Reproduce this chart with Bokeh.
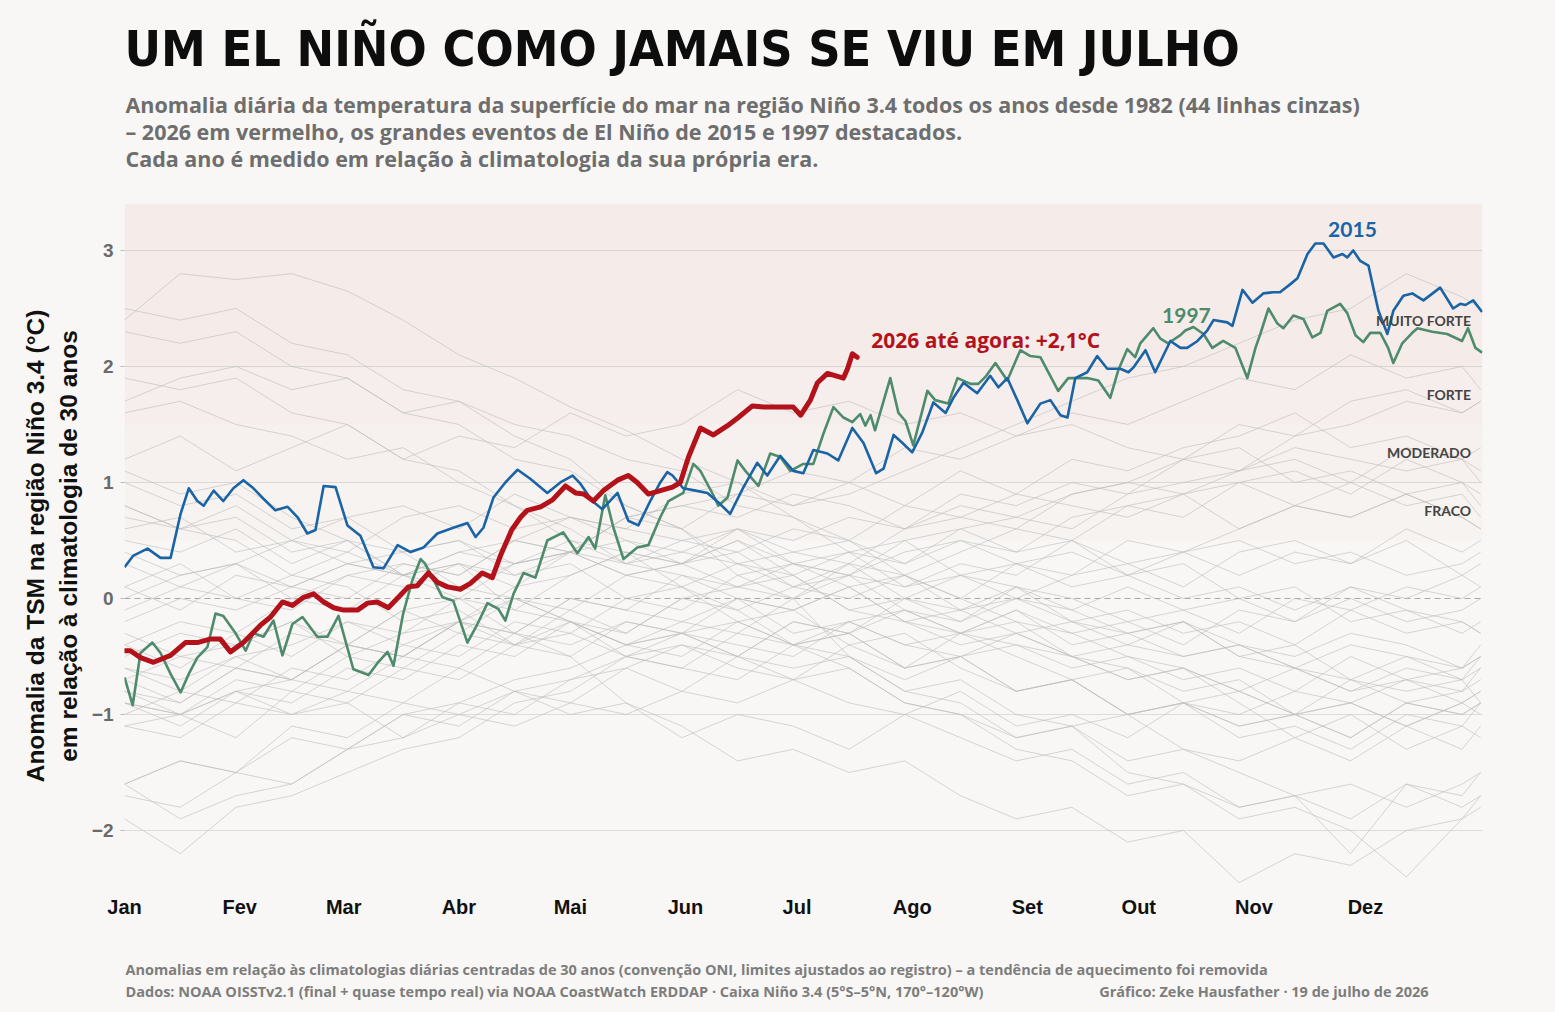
from bokeh.plotting import figure
from bokeh.layouts import column
from bokeh.models import Range1d, FixedTicker, BoxAnnotation, Span
from bokeh.core.properties import value
from bokeh.embed import file_html
from bokeh.resources import INLINE

# ---------------- texts ----------------
TITLE = "UM EL NIÑO COMO JAMAIS SE VIU EM JULHO"
SUBTITLE = [
    "Anomalia diária da temperatura da superfície do mar na região Niño 3.4 todos os anos desde 1982 (44 linhas cinzas)",
    "– 2026 em vermelho, os grandes eventos de El Niño de 2015 e 1997 destacados.",
    "Cada ano é medido em relação à climatologia da sua própria era.",
]
FOOTER_1 = "Anomalias em relação às climatologias diárias centradas de 30 anos (convenção ONI, limites ajustados ao registro) – a tendência de aquecimento foi removida"
FOOTER_2 = "Dados: NOAA OISSTv2.1 (final + quase tempo real) via NOAA CoastWatch ERDDAP · Caixa Niño 3.4 (5°S–5°N, 170°–120°W)"
FOOTER_3 = "Gráfico: Zeke Hausfather · 19 de julho de 2026"
Y_LABEL = "Anomalia da TSM na região Niño 3.4 (°C)\nem relação à climatologia de 30 anos"

MONTHS = ["Jan", "Fev", "Mar", "Abr", "Mai", "Jun", "Jul", "Ago", "Set", "Out", "Nov", "Dez"]
MONTH_START = [0, 31, 59, 90, 120, 151, 181, 212, 243, 273, 304, 334]
Y_TICKS = [-2, -1, 0, 1, 2, 3]
CATEGORY_LABELS = ["FRACO", "MODERADO", "FORTE", "MUITO FORTE"]
CATEGORY_Y = [0.76, 1.26, 1.76, 2.40]
BAND_EDGES = [0.5, 1.0, 1.5, 2.0]

# ---------------- highlighted years (day of year, anomaly °C) ----------------
D2026 = [0, 1.6, 4.3, 7.8, 12.4, 16.4, 19.6, 23, 25.8, 28.5,
         32, 36.6, 39.3, 42.5, 45.2, 48.2, 50.9, 53.6, 56.3, 59,
         62.7, 65.4, 68, 71, 74.3, 76.4, 78.8, 81.8, 84.2, 86.9,
         90.4, 93.1, 96.3, 99, 101.2, 104.2, 106.6, 108.4, 112, 115.2,
         118.7, 121.4, 123.6, 126.2, 128.9, 132.7, 135.6, 138, 141, 144.2,
         147.5, 149.6, 151.8, 155, 158.5, 162.3, 165.2, 169, 172, 176.5,
         180, 182, 184.6, 186.5, 189.2, 193.5, 194.6, 195.9, 197.2]
V2026 = [-0.45, -0.45, -0.51, -0.55, -0.49, -0.38, -0.38, -0.35, -0.35, -0.46,
         -0.38, -0.23, -0.16, -0.03, -0.06, 0.01, 0.04, -0.03, -0.08, -0.10,
         -0.10, -0.04, -0.03, -0.08, 0.03, 0.10, 0.11, 0.22, 0.14, 0.10,
         0.08, 0.13, 0.22, 0.18, 0.37, 0.59, 0.70, 0.76, 0.79, 0.85,
         0.97, 0.91, 0.90, 0.84, 0.93, 1.02, 1.06, 1.00, 0.90, 0.93,
         0.96, 1.00, 1.22, 1.47, 1.41, 1.49, 1.56, 1.66, 1.65, 1.65,
         1.65, 1.58, 1.71, 1.86, 1.94, 1.90, 1.98, 2.11, 2.08]

D2015 = [0, 2.4, 6.2, 9.7, 12.4, 15.1, 17.3, 19.6, 21.3, 24,
         26.6, 29.3, 32, 34.7, 37.4, 40.6, 43.9, 46.6, 49.2, 51.4,
         53.6, 56.8, 60, 63.5, 67, 69.7, 73.5, 77, 80.5, 84.2,
         88.5, 92.3, 94.5, 96.6, 99.3, 102.5, 105.8, 109.3, 113.8, 117.3,
         120.6, 122.7, 125.9, 128.6, 132.7, 135.6, 138.3, 141.5, 144.2, 146.1,
         147.5, 150.4, 153.7, 156.9, 159.8, 163, 166.6, 170.3, 173, 176.5,
         180, 182.7, 185.4, 189.2, 192.1, 195.9, 198.9, 202.3, 204.3, 207,
         209.4, 212, 214.7, 217.7, 221, 223.1, 225.8, 229.5, 233, 235.2,
         237.6, 240.3, 243, 246.5, 249.2, 251.9, 253.8, 255.9, 259.1, 261.8,
         264.5, 268, 270.2, 271.5, 274.8, 277.4, 281.5, 284.2, 286, 288.8,
         291.4, 293.1, 296.8, 298.2, 300.9, 303.6, 306.5, 309.2, 311, 313.8,
         315.7, 318.4, 320.5, 322.7, 325.4, 327.8, 329.1, 330.7, 332.6, 334.8,
         336.1, 337.5, 339.9, 341.5, 344.2, 346.6, 349.6, 354.1, 357.6, 359.5,
         360.9, 363, 365.4]
V2015 = [0.27, 0.37, 0.43, 0.35, 0.35, 0.73, 0.95, 0.84, 0.80, 0.93,
         0.84, 0.95, 1.02, 0.95, 0.86, 0.76, 0.79, 0.70, 0.56, 0.59,
         0.97, 0.96, 0.63, 0.54, 0.27, 0.26, 0.46, 0.40, 0.44, 0.56,
         0.61, 0.65, 0.53, 0.61, 0.87, 1.00, 1.11, 1.03, 0.91, 1.00,
         1.06, 0.99, 0.84, 0.77, 0.91, 0.67, 0.63, 0.84, 1.00, 1.09,
         1.06, 0.95, 0.93, 0.91, 0.83, 0.73, 0.96, 1.17, 1.06, 1.23,
         1.10, 1.08, 1.28, 1.25, 1.19, 1.47, 1.34, 1.08, 1.12, 1.41,
         1.34, 1.26, 1.43, 1.69, 1.60, 1.73, 1.86, 1.77, 1.92, 1.82,
         1.90, 1.71, 1.51, 1.68, 1.71, 1.58, 1.56, 1.90, 1.95, 2.09,
         1.98, 1.98, 1.95, 1.99, 2.14, 1.95, 2.22, 2.16, 2.16, 2.22,
         2.31, 2.40, 2.38, 2.35, 2.66, 2.55, 2.63, 2.64, 2.64, 2.71,
         2.76, 2.97, 3.06, 3.06, 2.94, 2.97, 2.94, 3.00, 2.91, 2.87,
         2.68, 2.48, 2.28, 2.48, 2.61, 2.63, 2.57, 2.68, 2.50, 2.54,
         2.53, 2.57, 2.47]

D1997 = [0, 2.2, 4.3, 7.5, 9.7, 12.4, 15.1, 17.3, 19.6, 22.3,
         24.5, 26.6, 29.9, 32.6, 34.7, 37.4, 40.1, 42.5, 45.2, 47.9,
         51.9, 54.6, 57.6, 61.6, 65.7, 68, 70.8, 72.4, 75, 77.5,
         79.7, 80.9, 83.2, 85.6, 88.5, 92.3, 95, 97.7, 100.6, 102.5,
         104.7, 107.4, 110.6, 113.8, 118.1, 121.9, 124.9, 126.7, 129.4, 131.6,
         134.3, 138, 141, 144.2, 146.4, 150.4, 153.1, 155, 158.5, 159.8,
         162.3, 165, 167.1, 170.6, 173.8, 176.5, 179.2, 182.7, 185.4, 188.1,
         190.8, 193.5, 195.9, 198, 199.4, 200.8, 202, 206.1, 208.3, 210.2,
         212.3, 216.1, 218.2, 221.7, 224.2, 227.7, 229.8, 231.7, 234.4, 237.6,
         241.1, 243.8, 246.5, 251.3, 254, 256.7, 259.1, 262.1, 265.3, 267.5,
         269.9, 272, 273.4, 276.9, 278.8, 280.9, 284.2, 285.5, 287.7, 290.4,
         292.8, 295.7, 299, 302.2, 304.4, 305.7, 307.9, 310.3, 311.9, 314.6,
         317.3, 319.7, 321.9, 323.7, 327.2, 329.1, 331.3, 333.4, 335.3, 338,
         340.1, 341.5, 343.9, 346.6, 348, 352, 356, 360, 361.6, 363.6,
         365.4]
V1997 = [-0.68, -0.92, -0.47, -0.38, -0.47, -0.65, -0.81, -0.65, -0.51, -0.42,
         -0.13, -0.15, -0.30, -0.45, -0.30, -0.33, -0.19, -0.49, -0.22, -0.16,
         -0.33, -0.33, -0.15, -0.61, -0.66, -0.56, -0.46, -0.58, -0.13, 0.16,
         0.34, 0.30, 0.16, 0.01, -0.02, -0.38, -0.22, -0.04, -0.09, -0.19,
         0.04, 0.22, 0.18, 0.50, 0.57, 0.39, 0.53, 0.43, 0.89, 0.61,
         0.34, 0.44, 0.46, 0.70, 0.84, 0.91, 1.16, 1.10, 0.89, 0.80,
         0.87, 1.19, 1.10, 0.97, 1.25, 1.22, 1.10, 1.16, 1.16, 1.42,
         1.65, 1.56, 1.52, 1.59, 1.49, 1.58, 1.45, 1.90, 1.60, 1.53,
         1.32, 1.79, 1.71, 1.68, 1.90, 1.85, 1.85, 1.91, 2.03, 1.88,
         2.14, 2.09, 2.08, 1.79, 1.90, 1.90, 1.90, 1.88, 1.73, 1.97,
         2.15, 2.08, 2.20, 2.33, 2.24, 2.20, 2.27, 2.31, 2.34, 2.28,
         2.16, 2.22, 2.16, 1.90, 2.16, 2.28, 2.50, 2.37, 2.33, 2.44,
         2.41, 2.25, 2.29, 2.48, 2.54, 2.46, 2.27, 2.21, 2.29, 2.29,
         2.16, 2.03, 2.20, 2.29, 2.33, 2.30, 2.28, 2.22, 2.33, 2.16,
         2.12]

# ---------------- the other years (grey), sampled every 15 days ----------------
GRAY_DAYS = [0, 15, 30, 45, 60, 75, 90, 105, 120, 135, 150, 165, 180,
             195, 210, 225, 240, 255, 270, 285, 300, 315, 330, 345, 360, 365]
G1982 = [-0.1, 0.1, 0.0, -0.1, 0.2, 0.3, 0.2, 0.5, 0.7, 0.6, 0.9, 1.0, 0.8, 0.9, 1.1, 1.3, 1.5, 1.7, 1.9, 2.0, 2.2, 2.4, 2.5, 2.8, 2.6, 2.5]
G1983 = [2.4, 2.8, 2.75, 2.8, 2.65, 2.4, 2.1, 1.9, 1.65, 1.45, 1.2, 1.0, 0.7, 0.5, 0.2, 0.0, -0.2, -0.3, -0.5, -0.6, -0.8, -1.0, -0.9, -1.1, -0.9, -0.8]
G1984 = [-0.5, -0.3, -0.4, -0.2, -0.5, -0.6, -0.3, -0.4, -0.2, -0.5, -0.3, -0.4, -0.5, -0.2, -0.1, -0.3, -0.4, -0.5, -0.7, -0.6, -0.9, -1.2, -1.0, -1.3, -1.1, -1.2]
G1985 = [-1.1, -1.2, -0.9, -1.0, -0.8, -0.9, -0.6, -0.8, -0.7, -0.5, -0.6, -0.7, -0.4, -0.5, -0.7, -0.5, -0.3, -0.5, -0.4, -0.2, -0.4, -0.5, -0.3, -0.4, -0.6, -0.5]
G1986 = [-0.6, -0.7, -0.5, -0.4, -0.2, -0.4, -0.2, 0.0, -0.1, 0.2, 0.1, 0.3, 0.4, 0.3, 0.6, 0.7, 0.6, 0.9, 1.0, 0.9, 1.1, 1.2, 1.0, 1.3, 1.2, 1.3]
G1987 = [1.2, 1.4, 1.1, 1.3, 1.5, 1.2, 1.4, 1.3, 1.6, 1.4, 1.5, 1.8, 1.6, 1.7, 1.5, 1.6, 1.4, 1.5, 1.3, 1.2, 1.3, 1.0, 1.1, 0.9, 1.0, 0.8]
G1988 = [0.8, 0.6, 0.7, 0.4, 0.5, 0.2, 0.0, -0.3, -0.5, -0.9, -1.1, -1.4, -1.3, -1.5, -1.4, -1.7, -1.9, -1.8, -2.1, -2.0, -2.45, -2.2, -2.3, -2.0, -1.9, -1.8]
G1989 = [-1.9, -2.2, -1.8, -1.7, -1.5, -1.3, -1.2, -0.9, -0.8, -0.5, -0.6, -0.3, -0.4, -0.2, -0.4, -0.3, -0.1, -0.3, -0.2, -0.4, -0.1, -0.2, 0.0, -0.2, -0.1, 0.0]
G1990 = [0.1, 0.3, 0.0, 0.2, 0.4, 0.2, 0.3, 0.1, 0.4, 0.2, 0.3, 0.5, 0.2, 0.4, 0.3, 0.5, 0.3, 0.4, 0.2, 0.4, 0.5, 0.3, 0.4, 0.2, 0.3, 0.4]
G1991 = [0.4, 0.2, 0.3, 0.1, 0.3, 0.2, 0.4, 0.5, 0.4, 0.7, 0.8, 0.7, 0.9, 0.8, 0.6, 0.8, 0.7, 0.9, 1.0, 1.2, 1.1, 1.4, 1.5, 1.7, 1.6, 1.7]
G1992 = [1.7, 1.9, 2.0, 1.8, 1.9, 1.6, 1.7, 1.5, 1.4, 1.2, 1.1, 0.8, 0.7, 0.4, 0.5, 0.2, 0.1, 0.0, -0.2, -0.1, -0.3, 0.0, -0.1, 0.1, 0.0, 0.1]
G1993 = [0.0, 0.2, 0.3, 0.5, 0.4, 0.7, 0.8, 0.6, 0.7, 0.5, 0.4, 0.3, 0.1, 0.3, 0.0, 0.2, 0.3, 0.1, 0.2, 0.0, 0.1, -0.1, 0.1, 0.0, 0.2, 0.1]
G1994 = [0.1, -0.1, 0.2, 0.1, 0.3, 0.2, 0.4, 0.3, 0.5, 0.3, 0.4, 0.6, 0.4, 0.5, 0.3, 0.6, 0.7, 0.6, 0.9, 1.0, 1.1, 1.3, 1.2, 1.1, 1.2, 1.0]
G1995 = [1.0, 0.8, 0.9, 0.6, 0.7, 0.4, 0.5, 0.2, 0.3, 0.0, 0.1, -0.2, -0.1, -0.4, -0.3, -0.6, -0.8, -0.7, -1.0, -0.9, -1.1, -1.0, -1.2, -0.9, -1.0, -0.9]
G1996 = [-0.9, -1.1, -0.8, -0.7, -0.8, -0.5, -0.6, -0.3, -0.4, -0.2, -0.3, 0.0, -0.1, 0.1, -0.2, -0.3, -0.1, -0.4, -0.3, -0.5, -0.4, -0.6, -0.4, -0.5, -0.7, -0.5]
G1998 = [2.3, 2.2, 2.3, 2.0, 1.9, 1.6, 1.5, 1.2, 1.1, 0.8, 0.6, 0.2, 0.0, -0.5, -0.8, -0.9, -1.2, -1.1, -1.4, -1.3, -1.5, -1.7, -1.6, -1.8, -1.6, -1.5]
G1999 = [-1.6, -1.4, -1.5, -1.1, -1.2, -0.9, -1.0, -0.8, -1.0, -0.9, -1.2, -1.0, -1.1, -1.3, -1.0, -1.2, -1.4, -1.3, -1.6, -1.5, -1.8, -1.7, -2.2, -1.6, -1.8, -1.7]
G2000 = [-1.7, -1.8, -1.5, -1.6, -1.3, -1.0, -1.1, -0.8, -0.9, -0.6, -0.8, -0.5, -0.7, -0.4, -0.6, -0.3, -0.5, -0.7, -0.6, -0.9, -0.8, -1.0, -0.7, -0.9, -0.8, -0.7]
G2001 = [-0.7, -0.9, -0.6, -0.7, -0.4, -0.5, -0.2, -0.4, -0.1, -0.3, 0.0, -0.1, 0.1, 0.0, 0.2, -0.1, 0.0, -0.2, -0.1, -0.3, -0.2, -0.4, -0.1, -0.3, -0.2, -0.3]
G2002 = [-0.2, 0.0, -0.1, 0.1, 0.0, 0.3, 0.2, 0.5, 0.4, 0.7, 0.6, 0.9, 0.8, 1.0, 0.8, 1.1, 0.9, 1.2, 1.1, 1.3, 1.4, 1.6, 1.3, 1.4, 1.2, 1.1]
G2003 = [1.1, 0.9, 1.0, 0.7, 0.5, 0.4, 0.1, 0.0, -0.2, -0.4, -0.2, -0.3, 0.0, 0.2, 0.1, 0.3, 0.2, 0.5, 0.3, 0.4, 0.2, 0.4, 0.3, 0.5, 0.2, 0.3]
G2004 = [0.3, 0.1, 0.3, 0.0, 0.2, 0.1, 0.3, 0.2, 0.4, 0.3, 0.5, 0.4, 0.6, 0.5, 0.8, 0.7, 0.9, 0.8, 0.7, 0.9, 0.6, 0.8, 0.7, 0.9, 0.7, 0.6]
G2005 = [0.6, 0.7, 0.4, 0.5, 0.3, 0.4, 0.5, 0.3, 0.4, 0.2, 0.3, 0.1, 0.2, -0.1, 0.0, -0.2, 0.1, -0.1, -0.3, -0.2, -0.5, -0.6, -0.8, -0.7, -0.9, -0.8]
G2006 = [-0.8, -0.9, -0.6, -0.7, -0.4, -0.5, -0.2, -0.3, 0.0, -0.1, 0.2, 0.1, 0.3, 0.2, 0.4, 0.5, 0.4, 0.7, 0.8, 0.7, 1.0, 1.1, 0.9, 1.2, 1.0, 0.9]
G2007 = [0.8, 0.6, 0.5, 0.2, 0.1, -0.2, -0.1, -0.4, -0.3, -0.5, -0.4, -0.6, -0.7, -0.6, -0.9, -1.0, -1.2, -1.1, -1.5, -1.6, -1.8, -1.7, -1.9, -1.6, -1.7, -1.5]
G2008 = [-1.6, -1.9, -1.7, -1.6, -1.3, -1.2, -0.9, -1.0, -0.7, -0.6, -0.4, -0.5, -0.2, -0.3, 0.0, -0.1, 0.1, -0.2, -0.3, -0.2, -0.5, -0.4, -0.7, -0.8, -0.7, -0.9]
G2009 = [-0.8, -1.0, -0.7, -0.8, -0.5, -0.3, -0.2, 0.1, 0.2, 0.4, 0.3, 0.6, 0.5, 0.7, 0.6, 0.9, 0.8, 1.0, 0.9, 1.2, 1.5, 1.4, 1.7, 1.8, 1.6, 1.7]
G2010 = [1.6, 1.7, 1.5, 1.4, 1.2, 1.3, 1.0, 0.8, 0.5, 0.4, 0.1, -0.1, -0.4, -0.6, -0.9, -1.0, -1.3, -1.4, -1.7, -1.6, -1.9, -1.8, -2.0, -2.4, -1.9, -1.7]
G2011 = [-1.6, -1.4, -1.5, -1.2, -1.3, -1.0, -0.9, -0.7, -0.6, -0.4, -0.5, -0.2, -0.4, -0.3, -0.6, -0.5, -0.8, -0.7, -1.0, -0.9, -1.2, -1.1, -1.3, -1.0, -1.1, -0.9]
G2012 = [-1.0, -0.8, -0.9, -0.6, -0.7, -0.4, -0.5, -0.2, -0.3, 0.0, -0.1, 0.2, 0.3, 0.2, 0.5, 0.6, 0.4, 0.5, 0.2, 0.3, 0.0, 0.1, -0.2, -0.1, -0.3, -0.2]
G2013 = [-0.3, -0.5, -0.4, -0.2, -0.4, -0.1, -0.3, 0.0, -0.2, -0.4, -0.3, -0.5, -0.2, -0.3, -0.1, -0.2, 0.0, -0.1, 0.1, -0.1, 0.0, -0.2, 0.1, -0.1, -0.2, -0.3]
G2014 = [-0.4, -0.6, -0.3, -0.5, -0.2, -0.3, 0.0, -0.1, 0.2, 0.4, 0.3, 0.5, 0.3, 0.1, 0.2, 0.0, 0.3, 0.2, 0.5, 0.4, 0.6, 0.8, 0.7, 0.9, 0.7, 0.6]
G2016 = [2.5, 2.4, 2.5, 2.2, 2.1, 1.8, 1.7, 1.4, 1.2, 0.8, 0.6, 0.3, 0.2, -0.1, -0.2, -0.4, -0.3, -0.5, -0.7, -0.6, -0.8, -0.6, -0.7, -0.5, -0.6, -0.4]
G2017 = [-0.4, -0.2, -0.3, 0.0, -0.1, 0.2, 0.1, 0.3, 0.4, 0.5, 0.3, 0.4, 0.1, 0.2, -0.1, -0.3, -0.2, -0.5, -0.6, -0.8, -0.7, -1.0, -0.9, -1.1, -0.9, -1.0]
G2018 = [-0.9, -1.0, -0.8, -0.9, -0.6, -0.7, -0.4, -0.5, -0.2, -0.3, 0.0, 0.1, 0.0, 0.3, 0.2, 0.4, 0.6, 0.5, 0.8, 0.9, 1.0, 0.8, 1.0, 0.8, 0.9, 0.7]
G2019 = [0.7, 0.6, 0.8, 0.5, 0.7, 0.8, 0.6, 0.9, 0.7, 0.6, 0.5, 0.6, 0.3, 0.4, 0.1, 0.2, 0.0, 0.2, 0.3, 0.1, 0.4, 0.5, 0.3, 0.6, 0.4, 0.5]
G2020 = [0.5, 0.4, 0.6, 0.3, 0.5, 0.2, 0.3, -0.1, -0.2, -0.4, -0.3, -0.5, -0.6, -0.5, -0.8, -0.7, -1.0, -1.1, -1.0, -1.3, -1.4, -1.2, -1.4, -1.1, -1.3, -1.1]
G2021 = [-1.1, -1.0, -1.2, -0.8, -0.9, -0.6, -0.7, -0.4, -0.5, -0.2, -0.3, -0.2, -0.4, -0.3, -0.6, -0.5, -0.8, -0.7, -1.0, -0.9, -1.1, -1.0, -1.2, -0.9, -1.0, -0.9]
G2022 = [-0.9, -1.0, -0.8, -1.0, -0.9, -1.2, -1.0, -1.1, -0.9, -1.0, -0.8, -0.9, -0.7, -0.9, -1.0, -0.8, -1.1, -1.0, -1.2, -0.9, -1.0, -0.8, -0.9, -0.7, -0.8, -0.6]
G2023 = [-0.7, -0.5, -0.6, -0.3, -0.4, -0.1, 0.0, 0.3, 0.4, 0.7, 0.8, 0.9, 1.1, 1.0, 1.3, 1.2, 1.4, 1.6, 1.5, 1.7, 1.9, 1.8, 2.1, 1.9, 2.0, 1.8]
G2024 = [1.9, 1.8, 1.9, 1.6, 1.5, 1.2, 1.1, 0.8, 0.6, 0.3, 0.2, 0.0, -0.1, 0.1, -0.2, -0.1, -0.3, -0.2, -0.4, -0.5, -0.4, -0.6, -0.8, -0.6, -0.7, -0.6]
G2025 = [-0.6, -0.8, -0.5, -0.7, -0.4, -0.5, -0.2, -0.3, 0.0, -0.1, -0.2, 0.0, -0.3, -0.2, -0.4, -0.5, -0.4, -0.6, -0.5, -0.7, -0.6, -0.8, -0.5, -0.7, -0.6, -0.5]

GRAY_YEARS = [G1982, G1983, G1984, G1985, G1986, G1987, G1988, G1989, G1990, G1991,
              G1992, G1993, G1994, G1995, G1996, G1998, G1999, G2000, G2001, G2002,
              G2003, G2004, G2005, G2006, G2007, G2008, G2009, G2010, G2011, G2012,
              G2013, G2014, G2016, G2017, G2018, G2019, G2020, G2021, G2022, G2023,
              G2024, G2025]

# ---------------- style ----------------
W = 1555
BG = "#f8f7f5"
FONT = "Lato"
SANS = "Open Sans"
HELV = "Liberation Sans"
TITLE_FONT = "DejaVu Sans Condensed, Roboto, sans-serif"
RED = "#b3121a"
BLUE = "#1a64a6"
GREEN = "#4e8b6c"
GREY = "#bdbdbd"
# the header and footer frames get aligned with the chart frame (x = 124 .. 1482 px)
FRAME_X = (124, 1482)


def blank(h):
    f = figure(width=W, height=h, x_range=Range1d(*FRAME_X), y_range=Range1d(h, 0),
               output_backend="svg", toolbar_location=None, min_border=0,
               x_axis_location=None, y_axis_location=None)
    f.grid.visible = False
    f.outline_line_color = None
    f.background_fill_color = BG
    f.border_fill_color = BG
    return f


# ---------------- header ----------------
header = blank(203)
header.text(x=[124], y=[48], text=[TITLE], text_font=value(TITLE_FONT),
            text_font_style="bold", text_font_size="50px", text_color="#0d0d0d",
            text_baseline="middle", text_align="left")
header.text(x=[125, 125, 125], y=[104, 131, 158], text=SUBTITLE, text_font=value(SANS),
            text_font_style="bold", text_font_size="21.5px", text_color="#6e6e6e",
            text_baseline="middle", text_align="left")

# ---------------- main chart ----------------
p = figure(width=W, height=737, x_range=Range1d(0, 365.5), y_range=Range1d(-2.5, 3.405),
           output_backend="svg", toolbar_location=None,
           min_border_left=124, min_border_right=73, min_border_top=0, min_border_bottom=52)
p.background_fill_color = BG
p.border_fill_color = BG
p.outline_line_color = None

alphas = [0.018, 0.03, 0.042, 0.055]
for i, lo in enumerate(BAND_EDGES):
    hi = BAND_EDGES[i + 1] if i + 1 < len(BAND_EDGES) else None
    p.add_layout(BoxAnnotation(bottom=lo, top=hi, fill_color="#c0392b", fill_alpha=alphas[i],
                               line_color=None, level="underlay"))

p.xgrid.visible = False
p.ygrid.ticker = FixedTicker(ticks=[t for t in Y_TICKS if t != 0])
p.ygrid.grid_line_color = "#dcdcdc"
p.ygrid.grid_line_width = 1
p.add_layout(Span(location=0, dimension="width", line_color="#a8a8a8",
                  line_dash="6 4", line_width=1, level="underlay"))

p.yaxis.ticker = FixedTicker(ticks=Y_TICKS)
p.yaxis.major_label_overrides = {t: (str(t).replace("-", "−")) for t in Y_TICKS}
p.yaxis.axis_line_color = None
p.yaxis.major_tick_out = 4
p.yaxis.major_tick_in = 0
p.yaxis.major_tick_line_color = "#bbbbbb"
p.yaxis.minor_tick_line_color = None
p.yaxis.major_label_standoff = 7
p.yaxis.major_label_text_font = HELV
p.yaxis.major_label_text_font_style = "bold"
p.yaxis.major_label_text_font_size = "19px"
p.yaxis.major_label_text_color = "#6a6a6a"
p.yaxis.axis_label = Y_LABEL
p.yaxis.axis_label_text_font = HELV
p.yaxis.axis_label_text_font_style = "bold"
p.yaxis.axis_label_text_font_size = "24.5px"
p.yaxis.axis_label_text_color = "#111111"
p.yaxis.axis_label_text_line_height = 1.22
p.yaxis.axis_label_standoff = 7

p.xaxis.ticker = FixedTicker(ticks=MONTH_START)
p.xaxis.major_label_overrides = dict(zip(MONTH_START, MONTHS))
p.xaxis.axis_line_color = None
p.xaxis.major_tick_line_color = None
p.xaxis.minor_tick_line_color = None
p.xaxis.major_tick_out = 0
p.xaxis.major_label_standoff = 7
p.xaxis.major_label_text_font = HELV
p.xaxis.major_label_text_font_style = "bold"
p.xaxis.major_label_text_font_size = "20px"
p.xaxis.major_label_text_color = "#111111"

# grey years
p.multi_line(xs=[GRAY_DAYS[:len(v)] for v in GRAY_YEARS] + [D1997, D2015],
             ys=[v for v in GRAY_YEARS] + [V1997, V2015],
             line_color=GREY, line_alpha=0.6, line_width=1)

# highlighted years
p.line(D1997, V1997, line_color=GREEN, line_width=2.6, line_join="round")
p.line(D2015, V2015, line_color=BLUE, line_width=2.6, line_join="round")
p.line(D2026, V2026, line_color=RED, line_width=5, line_join="round", line_cap="round")

# annotations
p.text(x=[330.5], y=[3.18], text=["2015"], text_font=value(FONT), text_font_style="bold",
       text_font_size="21px", text_color=BLUE, text_align="center", text_baseline="middle")
p.text(x=[285.8], y=[2.44], text=["1997"], text_font=value(FONT), text_font_style="bold",
       text_font_size="21px", text_color=GREEN, text_align="center", text_baseline="middle")
p.text(x=[201], y=[2.23], text=["2026 até agora: +2,1°C"], text_font=value(SANS),
       text_font_style="bold", text_font_size="21px", text_color=RED,
       text_align="left", text_baseline="middle")
p.text(x=[362.4] * len(CATEGORY_LABELS), y=CATEGORY_Y, text=CATEGORY_LABELS,
       text_font=value(FONT), text_font_style="bold", text_font_size="14px",
       text_color="#444444", text_align="right", text_baseline="middle")

# ---------------- footer ----------------
footer = blank(72)
footer.text(x=[125, 125], y=[29, 51], text=[FOOTER_1, FOOTER_2], text_font=value(SANS),
            text_font_style="bold", text_font_size="14.5px", text_color="#7d7d7d",
            text_baseline="middle", text_align="left")
footer.text(x=[1428], y=[51], text=[FOOTER_3], text_font=value(SANS),
            text_font_style="bold", text_font_size="14.5px", text_color="#7d7d7d",
            text_baseline="middle", text_align="right")

layout = column(header, p, footer, spacing=0)
layout.styles = {"background-color": BG}

open("out.html", "w").write(file_html(layout, INLINE))
